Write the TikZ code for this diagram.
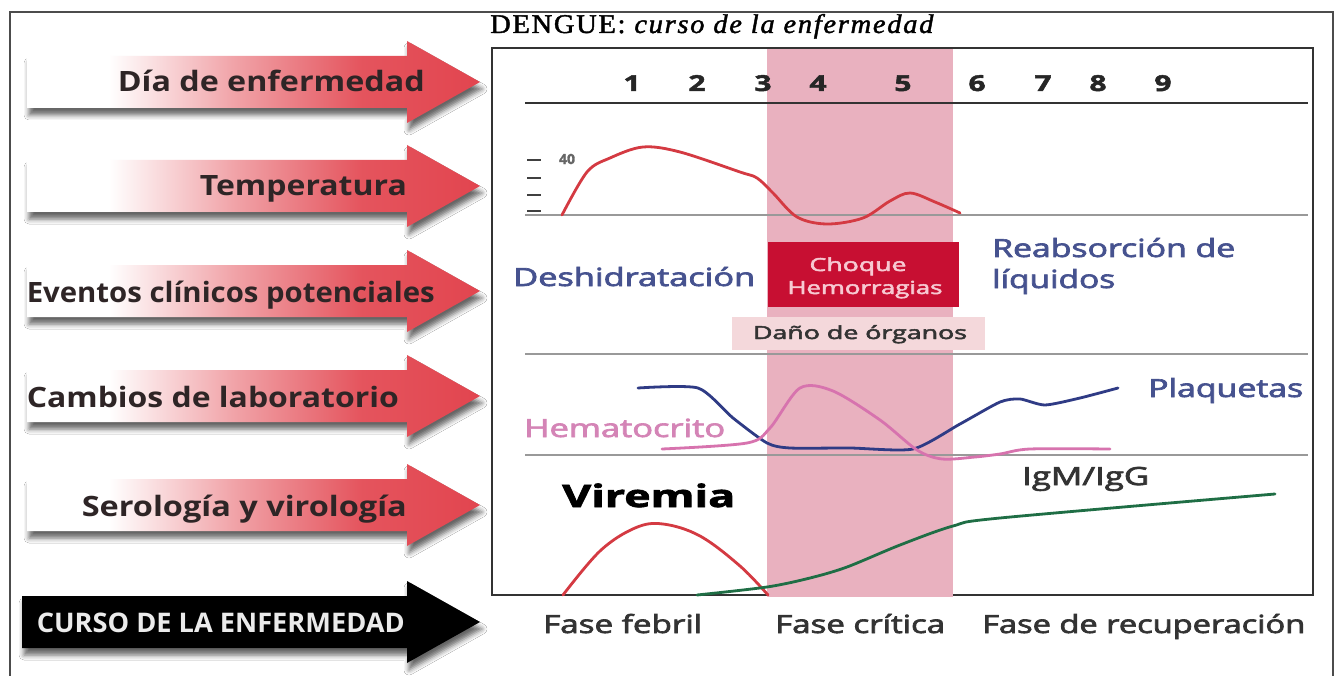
\documentclass[tikz,border=0pt]{standalone}
\usepackage{fontspec}
\usepackage{graphicx}
\setmainfont{Liberation Serif}
\newfontfamily\lbl{Open Sans}
\newfontfamily\med[FakeBold=2.5]{Open Sans}
\newfontfamily\heavy[BoldFeatures={FakeBold=2}]{Open Sans}
\newfontfamily\titlefont[LetterSpace=6,FakeBold=1.5]{Liberation Serif}
\usetikzlibrary{shadows.blur}
\newcommand{\fw}[2]{\resizebox{#1}{\height}{#2}}
\definecolor{arrowred}{HTML}{E2454F}
\definecolor{curvered}{HTML}{D43A42}
\definecolor{bandpink}{HTML}{E9B1BF}
\definecolor{boxred}{HTML}{C70F32}
\definecolor{boxtext}{HTML}{F7C9D2}
\definecolor{danopink}{HTML}{F4D8DB}
\definecolor{bluetext}{HTML}{46528F}
\definecolor{plaqblue}{HTML}{2F3B85}
\definecolor{hemapink}{HTML}{D773AE}
\definecolor{hematext}{HTML}{D484B6}
\definecolor{ivgreen}{HTML}{1F6E45}
\definecolor{textgrey}{HTML}{333333}
\definecolor{labeltext}{HTML}{2E2526}
\pgfdeclarehorizontalshading{arrowshade}{100bp}{color(0bp)=(white); color(34bp)=(white); color(48bp)=(arrowred!50!white); color(62bp)=(arrowred!92!white); color(75bp)=(arrowred); color(100bp)=(arrowred)}
\tikzset{
  redarr/.style={shading=arrowshade, blur shadow={shadow xshift=2pt, shadow yshift=-7pt, shadow blur radius=5pt, shadow opacity=60}},
  blackarr/.style={fill=black, blur shadow={shadow xshift=2pt, shadow yshift=-7pt, shadow blur radius=5pt, shadow opacity=60}},
  armlabel/.style={font=\lbl\bfseries\fontsize{28}{30}\selectfont, text=labeltext, anchor=base east, inner sep=0pt},
  daynum/.style={font=\heavy\bfseries\fontsize{22}{24}\selectfont, text=black!85, inner sep=0pt, anchor=base},
  chtext/.style={font=\med\fontsize{25}{28}\selectfont, inner sep=0pt, anchor=base west},
  phase/.style={font=\med\fontsize{25}{28}\selectfont, text=textgrey, inner sep=0pt, anchor=base west},
  sepline/.style={line width=1.5pt, black!40},
  curve/.style={line width=2.8pt, line cap=round, line join=round},
}
\begin{document}
\begin{tikzpicture}[x=1pt,y=-1pt]
\useasboundingbox (0,0) rectangle (1337,676);
\fill[white] (0,0) rectangle (1337,676);
\begin{scope}
\clip (0,0) rectangle (1337,676);
\draw[line width=1.8pt, black!70] (10,12) rectangle (1333,700);
\end{scope}

% title
\node[font=\titlefont\fontsize{27}{29}\selectfont, inner sep=0pt, anchor=base west] (title) at (490,33) {\fw{445pt}{DENGUE: \textit{curso de la enfermedad}}};

% left arrows
\foreach \yy in {82,186,291,396,505}
  \path[redarr] (27,\yy-26) -- (407,\yy-26) -- (407,\yy-41) -- (480,\yy) -- (407,\yy+41) -- (407,\yy+26) -- (27,\yy+26) -- cycle;
\path[blackarr] (22,596) -- (407,596) -- (407,581) -- (480,622) -- (407,663) -- (407,648) -- (22,648) -- cycle;

\node[armlabel] (l1) at (425,92) {\fw{307pt}{Día de enfermedad}};
\node[armlabel] (l2) at (407,196) {\fw{207pt}{Temperatura}};
\node[armlabel] (l3) at (435,302) {\fw{408pt}{Eventos clínicos potenciales}};
\node[armlabel] (l4) at (399,407) {\fw{372pt}{Cambios de laboratorio}};
\node[armlabel] (l5) at (407,516) {\fw{325pt}{Serología y virología}};
\node[armlabel, text=black!8, font=\lbl\bfseries\fontsize{27}{29}\selectfont] (l6) at (405,632) {\fw{368pt}{CURSO DE LA ENFERMEDAD}};

% chart box and band
\draw[line width=2pt, black!80] (492,48) rectangle (1313,595);
\fill[bandpink] (767,49.5) rectangle (953,596.5);

% separating lines
\draw[line width=2.6pt, black!80] (525,103) -- (1308,103);
\draw[sepline] (525,215) -- (1308,215);
\draw[sepline] (525,354) -- (1308,354);
\draw[sepline] (525,455) -- (1308,455);

% days
\foreach \n/\xx in {1/632,2/697,3/763,4/818,5/903,6/977,7/1043,8/1098,9/1163}
  \node[daynum] (d\n) at (\xx,91) {\fw{17pt}{\n}};

% temperature ticks
\foreach \ty in {160,178,195,211}
  \draw[line width=2.2pt, black!75] (527,\ty) -- (541,\ty);
\node[font=\heavy\bfseries\fontsize{14}{15}\selectfont, text=black!60, inner sep=0pt] (t40) at (567,159) {40};

\draw[curve, curvered] plot[smooth, tension=0.55] coordinates {(562,215) (587,172) (610,158) (643,147) (680,152) (740,172) (757,178) (773,193) (797,217) (827,224) (863,218) (890,201) (910,193) (935,202) (960,213)};

% clinical events
\node[chtext, text=bluetext] (desh) at (513,286) {\fw{242pt}{Deshidratación}};
\node[chtext, text=bluetext] (reab1) at (992,257) {\fw{243pt}{Reabsorción de}};
\node[chtext, text=bluetext] (reab2) at (992,288) {\fw{123pt}{líquidos}};
\node[fill=boxred, minimum width=191pt, minimum height=65pt, inner sep=0pt] (choque) at (863.5,274.5) {};
\node[font=\med\fontsize{18}{20}\selectfont, text=boxtext, inner sep=0pt, anchor=base] (ch1) at (858,271) {\fw{97pt}{Choque}};
\node[font=\med\fontsize{18}{20}\selectfont, text=boxtext, inner sep=0pt, anchor=base] (ch2) at (865,294) {\fw{155pt}{Hemorragias}};
\node[fill=danopink, minimum width=253pt, minimum height=33pt, inner sep=0pt] (dano) at (858.5,333.5) {};
\node[font=\med\fontsize{18}{20}\selectfont, text=textgrey, inner sep=0pt, anchor=base] (danot) at (860,339) {\fw{214pt}{Daño de órganos}};

% lab
\draw[curve, plaqblue] plot[smooth, tension=0.4] coordinates {(638,388) (698,388) (733,418) (767,443) (790,448) (850,448) (913,449) (960,424) (1000,402) (1020,399) (1045,405) (1080,398) (1118,388)};
\draw[curve, hemapink] plot[smooth, tension=0.5] coordinates {(662,449) (747,443) (770,428) (800,388) (833,391) (880,420) (917,450) (942,459) (975,457) (1000,454) (1030,449) (1110,449)};
\node[chtext, text=hematext] (hema) at (524,437) {\fw{201pt}{Hematocrito}};
\node[chtext, text=bluetext] (plaq) at (1148,397) {\fw{155pt}{Plaquetas}};

% serology
\node[font=\heavy\bfseries\fontsize{31}{34}\selectfont, inner sep=0pt, anchor=base west] (vir) at (562,507) {\fw{173pt}{Viremia}};
\node[chtext, text=textgrey] (igm) at (1022,485) {\fw{127pt}{IgM/IgG}};
\draw[curve, curvered] plot[smooth, tension=0.6] coordinates {(563,595) (600,551) (635,528) (663,524) (700,536) (740,566) (768,595)};
\draw[curve, ivgreen] plot[smooth, tension=0.5] coordinates {(697,595) (767,587) (810,578) (847,567) (900,545) (953,526) (1000,518) (1275,494)};

% phases
\node[phase] (f1) at (543,633) {\fw{159pt}{Fase febril}};
\node[phase] (f2) at (775,633) {\fw{170pt}{Fase crítica}};
\node[phase] (f3) at (982,633) {\fw{323pt}{Fase de recuperación}};
\end{tikzpicture}
\end{document}
